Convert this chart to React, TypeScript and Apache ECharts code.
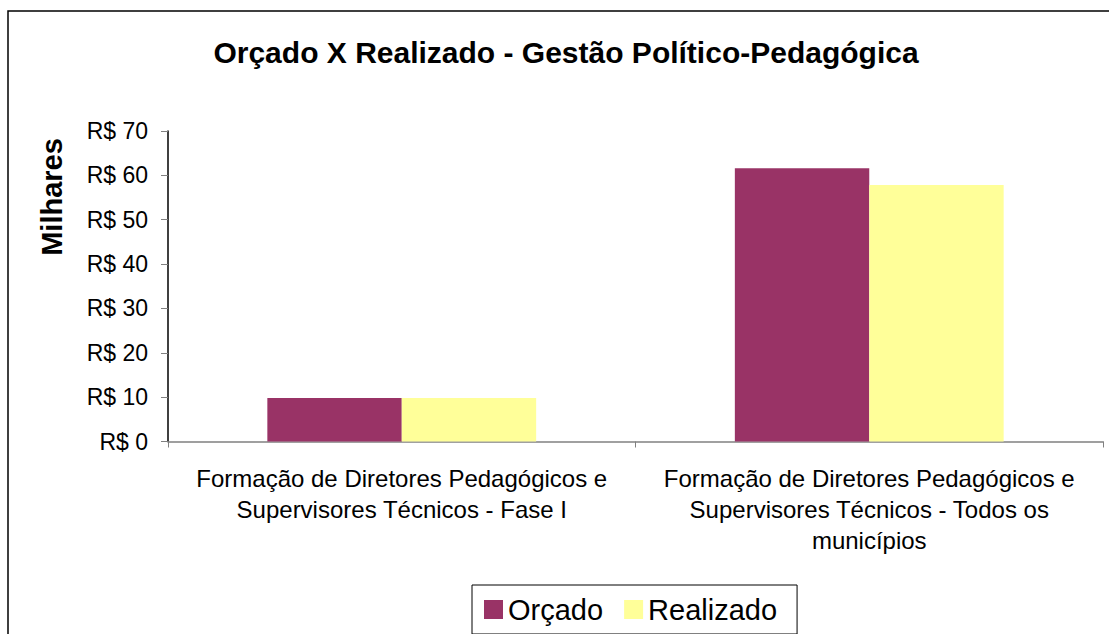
import React, { useEffect, useRef } from "react";
import * as echarts from "echarts";

const categories = [
  "Formação de Diretores Pedagógicos e\nSupervisores Técnicos - Fase I",
  "Formação de Diretores Pedagógicos e\nSupervisores Técnicos - Todos os\nmunicípios",
];
const orcado = [9.8, 61.6];
const realizado = [9.8, 57.8];
const seriesNames = ["Orçado", "Realizado"];
const titleText = "Orçado X Realizado - Gestão Político-Pedagógica";
const yName = "Milhares";

const FONT = "Arial, 'Liberation Sans', sans-serif";

export default function App() {
  const ref = useRef<HTMLDivElement>(null);
  useEffect(() => {
    if (!ref.current) return;
    const chart = echarts.init(ref.current, null, { renderer: "svg" });
    chart.setOption({
      animation: false,
      backgroundColor: "#ffffff",
      textStyle: { fontFamily: FONT },
      grid: { left: 168, right: 6, top: 131, bottom: 192.5, containLabel: false },
      legend: {
        data: seriesNames,
        left: 472,
        top: 585,
        orient: "horizontal",
        itemWidth: 19,
        itemHeight: 19,
        itemGap: 21,
        padding: [10, 20, 10, 12],
        borderColor: "#000000",
        borderWidth: 1,
        icon: "rect",
        textStyle: { fontFamily: FONT, fontSize: 29, color: "#000", padding: [0, 0, 0, 0] },
      },
      xAxis: {
        type: "category",
        data: categories,
        axisLine: { lineStyle: { color: "#808080", width: 1.5 } },
        axisTick: { show: true, length: 6, lineStyle: { color: "#808080" } },
        axisLabel: {
          interval: 0,
          margin: 21,
          fontFamily: FONT,
          fontSize: 24,
          lineHeight: 31,
          color: "#000",
          align: "center",
        },
      },
      yAxis: {
        type: "value",
        min: 0,
        max: 70,
        interval: 10,
        axisLine: { show: true, lineStyle: { color: "#000", width: 1.5 } },
        axisTick: { show: true, length: 7, lineStyle: { color: "#808080" } },
        splitLine: { show: false },
        axisLabel: {
          margin: 20,
          fontFamily: FONT,
          fontSize: 23,
          color: "#000",
          formatter: (v: number) => "R$ " + v,
        },
      },
      series: [
        {
          name: seriesNames[0],
          type: "bar",
          data: orcado,
          barGap: "0%",
          barCategoryGap: "42.5%",
          itemStyle: { color: "#993366" },
        },
        {
          name: seriesNames[1],
          type: "bar",
          data: realizado,
          barGap: "0%",
          barCategoryGap: "42.5%",
          itemStyle: { color: "#FFFF99" },
        },
      ],
      graphic: [
        {
          type: "polyline",
          shape: { points: [[8, 640], [8, 11], [1115, 11]] },
          style: { stroke: "#000", lineWidth: 1.5, fill: "none" },
          silent: true,
        },
        {
          type: "text",
          x: 566,
          y: 52,
          style: {
            text: titleText,
            font: `bold 30px ${FONT}`,
            fill: "#000",
            align: "center",
            verticalAlign: "middle",
          },
        },
        {
          type: "text",
          x: 52,
          y: 197,
          rotation: Math.PI / 2,
          style: {
            text: yName,
            font: `bold 29px ${FONT}`,
            fill: "#000",
            align: "center",
            verticalAlign: "middle",
          },
        },
      ],
    });
    return () => chart.dispose();
  }, []);
  return (
    <div
      ref={ref}
      style={{ position: "absolute", left: 0, top: 0, width: 1109, height: 634 }}
    />
  );
}
